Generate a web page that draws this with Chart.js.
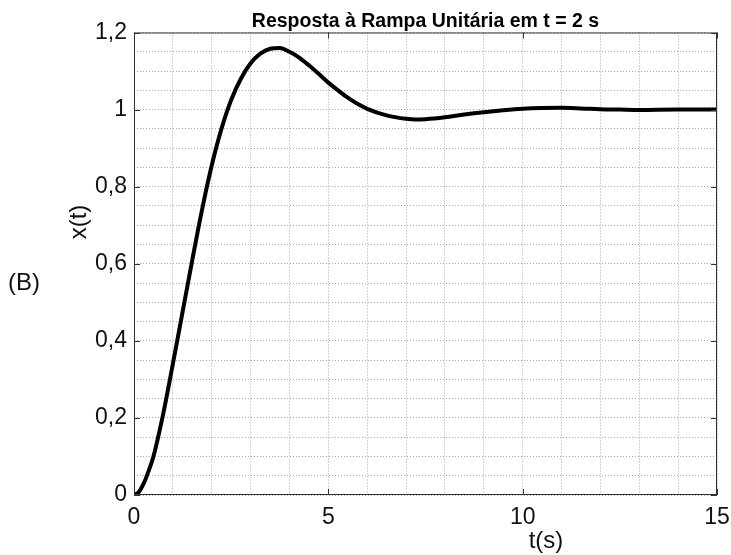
<!DOCTYPE html>
<html>
<head>
<meta charset="utf-8">
<title>Resposta à Rampa Unitária</title>
<script src="https://cdn.jsdelivr.net/npm/chart.js@4/dist/chart.umd.min.js"></script>
<style>
  html, body { margin: 0; padding: 0; background: #fff; }
  #wrap { position: relative; width: 731px; height: 555px; }
</style>
</head>
<body>
<div id="wrap"><canvas id="chart"></canvas></div>
<script>
// time values (s)
const tValues = [0, 0.125, 0.25, 0.375, 0.5, 0.75, 1.0, 1.25, 1.5, 1.75, 2.0, 2.25, 2.5, 2.75,
  3.0, 3.25, 3.5, 3.75, 4.0, 4.25, 4.5, 4.75, 5.0, 5.25, 5.5, 5.75, 6.0, 6.5, 7.0, 7.25,
  7.5, 8.0, 8.5, 9.0, 9.5, 10.0, 10.5, 11.0, 11.5, 12.0, 12.5, 13.0, 14.0, 15.0];
// response x(t)
const xValues = [0, 0.008, 0.03, 0.062, 0.1, 0.21, 0.34, 0.475, 0.61, 0.74, 0.855, 0.95, 1.025, 1.08,
  1.12, 1.145, 1.158, 1.16, 1.15, 1.135, 1.115, 1.093, 1.07, 1.05, 1.031, 1.015, 1.002, 0.985, 0.976, 0.974,
  0.975, 0.98, 0.987, 0.993, 0.998, 1.002, 1.004, 1.0045, 1.003, 1.001, 1.0, 0.999, 1.0, 1.0];

// tick labels
const xTickValues = [0, 5, 10, 15];
const xTickLabels = ['0', '5', '10', '15'];
const yTickValues = [0, 0.2, 0.4, 0.6, 0.8, 1.0, 1.2];
const yTickLabels = ['0', '0,2', '0,4', '0,6', '0,8', '1', '1,2'];

const FONT = '"Liberation Sans", Arial, sans-serif';

// Box around plot, inward tick marks and the free-standing texts
const matlabAxes = {
  id: 'matlabAxes',
  afterDraw(chart) {
    const ctx = chart.ctx;
    const a = chart.chartArea;
    const xs = chart.scales.x;
    const ys = chart.scales.y;
    ctx.save();
    ctx.strokeStyle = '#333';
    ctx.lineWidth = 1;
    ctx.strokeRect(a.left + 0.5, a.top + 0.5, a.right - a.left - 1, a.bottom - a.top - 1);

    // inward ticks
    ctx.beginPath();
    xTickValues.forEach(v => {
      const px = Math.round(xs.getPixelForValue(v)) + 0.5;
      ctx.moveTo(px, a.bottom); ctx.lineTo(px, a.bottom - 6);
      ctx.moveTo(px, a.top); ctx.lineTo(px, a.top + 6);
    });
    yTickValues.forEach(v => {
      const py = Math.round(ys.getPixelForValue(v)) + 0.5;
      ctx.moveTo(a.left, py); ctx.lineTo(a.left + 6, py);
      ctx.moveTo(a.right, py); ctx.lineTo(a.right - 6, py);
    });
    ctx.stroke();

    // axis titles and panel letter
    ctx.fillStyle = '#111';
    ctx.font = '24px ' + FONT;
    ctx.textAlign = 'center';
    ctx.textBaseline = 'middle';
    ctx.fillText('t(s)', 546, 541);
    ctx.fillText('(B)', 24, 283);
    ctx.translate(79, 222);
    ctx.rotate(-Math.PI / 2);
    ctx.fillText('x(t)', 0, 0);
    ctx.restore();
  }
};

const points = tValues.map((t, i) => ({ x: t, y: xValues[i] }));

new Chart(document.getElementById('chart'), {
  type: 'line',
  data: {
    datasets: [{
      label: 'x(t)',
      data: points,
      borderColor: '#000',
      borderWidth: 4,
      pointRadius: 0,
      fill: false,
      cubicInterpolationMode: 'monotone'
    }]
  },
  options: {
    responsive: true,
    maintainAspectRatio: false,
    animation: false,
    layout: { padding: { left: 0, right: 14, top: 0, bottom: 0 } },
    plugins: {
      legend: { display: false },
      tooltip: { enabled: false },
      title: {
        display: true,
        text: 'Resposta à Rampa Unitária em t = 2 s',
        fullSize: false,
        color: '#000',
        font: { family: FONT, size: 19.5, weight: 'bold', lineHeight: 1.0 },
        padding: { top: 12, bottom: 1 }
      }
    },
    scales: {
      x: {
        type: 'linear',
        min: 0,
        max: 15,
        afterFit: scale => {
          scale.height = 60;
          scale.paddingLeft = 0;
          scale.paddingRight = 0;
        },
        grid: { color: '#a8a8a8', lineWidth: 1, drawTicks: false },
        border: { display: false, dash: [1, 2] },
        ticks: {
          stepSize: 1,
          autoSkip: false,
          maxRotation: 0,
          padding: 9,
          color: '#111',
          font: { family: FONT, size: 23 },
          callback: v => {
            const i = xTickValues.indexOf(Math.round(v));
            return (i >= 0 && Math.abs(v - Math.round(v)) < 1e-6) ? xTickLabels[i] : '';
          }
        }
      },
      y: {
        type: 'linear',
        min: 0,
        max: 1.2,
        afterFit: scale => {
          scale.width = 134;
          scale.paddingTop = 0;
          scale.paddingBottom = 0;
        },
        grid: { color: '#a8a8a8', lineWidth: 1, drawTicks: false },
        border: { display: false, dash: [1, 2] },
        ticks: {
          stepSize: 0.05,
          autoSkip: false,
          padding: 7,
          color: '#111',
          font: { family: FONT, size: 23 },
          callback: v => {
            const i = yTickValues.findIndex(y => Math.abs(y - v) < 1e-6);
            return i >= 0 ? yTickLabels[i] : '';
          }
        }
      }
    }
  },
  plugins: [matlabAxes]
});
</script>
</body>
</html>
